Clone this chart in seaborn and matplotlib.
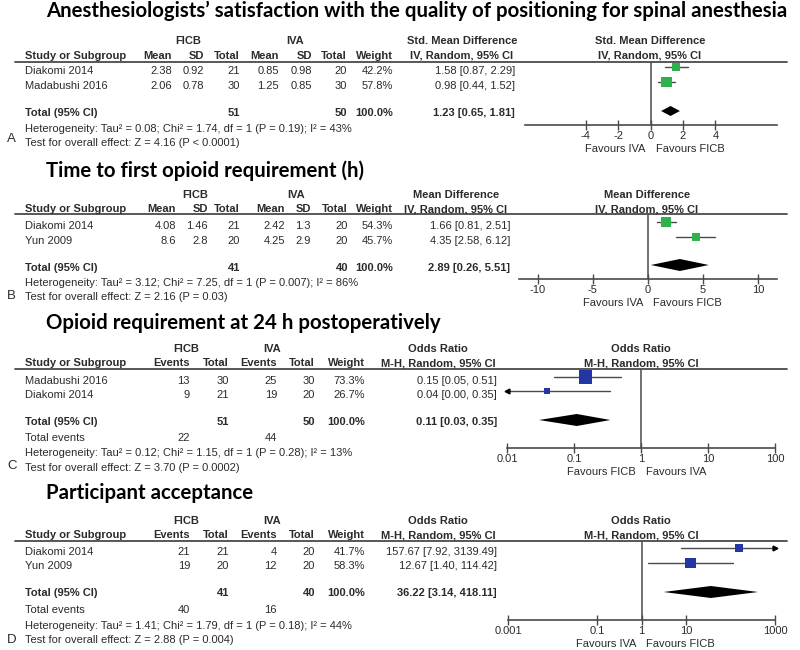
import matplotlib
matplotlib.use("Agg")
import matplotlib.pyplot as plt
import seaborn as sns

# ---- A: anesthesiologists' satisfaction (std. mean difference) ----
studies_a = ["Diakomi 2014", "Madabushi 2016"]
ficb_mean_a = [2.38, 2.06]
ficb_sd_a = [0.92, 0.78]
ficb_n_a = [21, 30]
iva_mean_a = [0.85, 1.25]
iva_sd_a = [0.98, 0.85]
iva_n_a = [20, 30]
weight_a = [42.2, 57.8]
est_a = [1.58, 0.98]
lo_a = [0.87, 0.44]
hi_a = [2.29, 1.52]
total_a = [1.23, 0.65, 1.81]
het_a = "Heterogeneity: Tau² = 0.08; Chi² = 1.74, df = 1 (P = 0.19); I² = 43%"
test_a = "Test for overall effect: Z = 4.16 (P < 0.0001)"
ticks_a = [-4, -2, 0, 2, 4]

# ---- B: time to first opioid requirement (mean difference) ----
studies_b = ["Diakomi 2014", "Yun 2009"]
ficb_mean_b = [4.08, 8.6]
ficb_sd_b = [1.46, 2.8]
ficb_n_b = [21, 20]
iva_mean_b = [2.42, 4.25]
iva_sd_b = [1.3, 2.9]
iva_n_b = [20, 20]
weight_b = [54.3, 45.7]
est_b = [1.66, 4.35]
lo_b = [0.81, 2.58]
hi_b = [2.51, 6.12]
total_b = [2.89, 0.26, 5.51]
het_b = "Heterogeneity: Tau² = 3.12; Chi² = 7.25, df = 1 (P = 0.007); I² = 86%"
test_b = "Test for overall effect: Z = 2.16 (P = 0.03)"
ticks_b = [-10, -5, 0, 5, 10]

# ---- C: opioid requirement at 24 h (odds ratio) ----
studies_c = ["Madabushi 2016", "Diakomi 2014"]
ficb_ev_c = [13, 9]
ficb_n_c = [30, 21]
iva_ev_c = [25, 19]
iva_n_c = [30, 20]
weight_c = [73.3, 26.7]
est_c = [0.15, 0.04]
lo_c = [0.05, 0.00]
hi_c = [0.51, 0.35]
total_c = [0.11, 0.03, 0.35]
het_c = "Heterogeneity: Tau² = 0.12; Chi² = 1.15, df = 1 (P = 0.28); I² = 13%"
test_c = "Test for overall effect: Z = 3.70 (P = 0.0002)"
ticks_c = [0.01, 0.1, 1, 10, 100]
ticklabels_c = ["0.01", "0.1", "1", "10", "100"]

# ---- D: participant acceptance (odds ratio) ----
studies_d = ["Diakomi 2014", "Yun 2009"]
ficb_ev_d = [21, 19]
ficb_n_d = [21, 20]
iva_ev_d = [4, 12]
iva_n_d = [20, 20]
weight_d = [41.7, 58.3]
est_d = [157.67, 12.67]
lo_d = [7.92, 1.40]
hi_d = [3139.49, 114.42]
total_d = [36.22, 3.14, 418.11]
het_d = "Heterogeneity: Tau² = 1.41; Chi² = 1.79, df = 1 (P = 0.18); I² = 44%"
test_d = "Test for overall effect: Z = 2.88 (P = 0.004)"
ticks_d = [0.001, 0.1, 1, 10, 1000]
ticklabels_d = ["0.001", "0.1", "1", "10", "1000"]

sns.set_theme(style="white")
plt.rcParams["font.family"] = ["Liberation Sans", "DejaVu Sans"]

W, H = 800, 650
TXT = "#2b2b2b"
LINE = "#4a4a4a"
GREEN = "#2fb24c"
BLUE = "#2436a3"
FS = 8.0

fig = plt.figure(figsize=(W / 100, H / 100), dpi=100)
bg = fig.add_axes([0, 0, 1, 1])
bg.set_xlim(0, W)
bg.set_ylim(H, 0)
bg.axis("off")


def txt(x, y, s, ha="left", bold=False, size=FS, color=TXT, family=None):
    bg.text(x, y, s, ha=ha, va="center", fontsize=size, color=color,
            fontweight="bold" if bold else "normal",
            family=family or ["Liberation Sans", "DejaVu Sans"])


def fmt_ci(e, l, h):
    return f"{e:.2f} [{l:.2f}, {h:.2f}]"


def header(lay, names, cols, groups, effect, method, eff_cx, forest_cx):
    for label, cx in groups:
        txt(cx, lay["hdr1"], label, ha="center", bold=True)
    txt(25, lay["hdr2"], "Study or Subgroup", bold=True)
    for name, x in zip(names, cols):
        txt(x, lay["hdr2"], name, ha="right", bold=True)
    for cx in (eff_cx, forest_cx):
        txt(cx, lay["hdr1"], effect, ha="center", bold=True)
        txt(cx, lay["hdr2"], method, ha="center", bold=True)
    bg.plot([15, 787], [lay["line"], lay["line"]], color=LINE, lw=1.3)


def footer(lay, ci_col, n_cols, wcol, total, n1, n2, het, test, letter):
    txt(25, lay["total"], "Total (95% CI)", bold=True)
    txt(n_cols[0], lay["total"], str(n1), ha="right", bold=True)
    txt(n_cols[1], lay["total"], str(n2), ha="right", bold=True)
    txt(wcol, lay["total"], "100.0%", ha="right", bold=True)
    txt(ci_col, lay["total"], fmt_ci(*total), ha="right", bold=True)
    txt(25, lay["het"], het)
    txt(25, lay["test"], test)
    txt(7, lay["letter"], letter, size=9.5)


def forest(lay, xlim, log, ticks, ticklabels, est, lo, hi, w, total, color,
           null, fav_left, fav_right):
    x0, x1 = lay["fx"]
    ytop, ybot = lay["line"], lay["faxis"]
    ax = fig.add_axes([x0 / W, 1 - ybot / H, (x1 - x0) / W, (ybot - ytop) / H])
    ax.patch.set_alpha(0)
    if log:
        ax.set_xscale("log")
    ax.set_xlim(xlim)
    ax.set_ylim(ybot, ytop)
    ax.axvline(null, color=LINE, lw=1.1, zorder=1)
    ys = lay["frows"]
    for e, l, h, y in zip(est, lo, hi, ys):
        lc = max(l, xlim[0]) if l > 0 or not log else xlim[0]
        hc = min(h, xlim[1])
        ax.plot([lc, hc], [y, y], color=LINE, lw=1, zorder=2, clip_on=False)
        if l < xlim[0] or (log and l <= 0):
            ax.plot([xlim[0]], [y], marker="<", ms=3.5, color="black", clip_on=False)
        if h > xlim[1]:
            ax.plot([xlim[1]], [y], marker=">", ms=3.5, color="black", clip_on=False)
    sizes = [((1.5 + wi * 0.16) * 0.72) ** 2 for wi in w]
    sns.scatterplot(x=est, y=ys, marker="s", s=sizes, color=color,
                    edgecolor=color, linewidth=0, legend=False, ax=ax, zorder=3)
    e, l, h = total
    yd, dh = lay["fdia"], lay["dia_h"]
    ax.fill([l, e, h, e], [yd, yd - dh, yd, yd + dh], color="black", lw=0, zorder=3)
    ax.set_xticks(ticks)
    ax.set_xticklabels(ticklabels)
    ax.minorticks_off()
    ax.set_yticks([])
    ax.set_xlabel("")
    ax.set_ylabel("")
    for side in ("left", "right", "top"):
        ax.spines[side].set_visible(False)
    ax.spines["bottom"].set_color(LINE)
    ax.spines["bottom"].set_linewidth(1.2)
    ax.tick_params(axis="x", direction="inout", length=7, width=1, color=LINE,
                   labelsize=FS, labelcolor=TXT, pad=1, bottom=True)
    for s, dx, ha in ((fav_left, -5, "right"), (fav_right, 5, "left")):
        ax.annotate(s, xy=(null, 0), xycoords=("data", "axes fraction"),
                    xytext=(dx, -24), textcoords="offset pixels", ha=ha,
                    va="center", fontsize=FS, color=TXT)


def title(y, s):
    txt(46, y, s, bold=True, size=14.7, color="black", family=["Lato", "DejaVu Sans"])


# ------------------------------ panel A ------------------------------
LAY_A = dict(hdr1=41, hdr2=56, line=62, rows=[71, 86], total=113, het=129, test=143,
             letter=139, fx=(525, 777), faxis=125, frows=[67, 82], fdia=111, dia_h=5)
cols_a = [172, 204, 240, 279, 312, 347, 393]
title(11, "Anesthesiologists’ satisfaction with the quality of positioning for spinal anesthesia")
header(LAY_A, ["Mean", "SD", "Total", "Mean", "SD", "Total", "Weight"], cols_a,
       [("FICB", 188), ("IVA", 295)], "Std. Mean Difference", "IV, Random, 95% CI", 462, 650)
for i, name in enumerate(studies_a):
    y = LAY_A["rows"][i]
    txt(25, y, name)
    vals = [f"{ficb_mean_a[i]:g}", f"{ficb_sd_a[i]:g}", str(ficb_n_a[i]),
            f"{iva_mean_a[i]:g}", f"{iva_sd_a[i]:g}", str(iva_n_a[i]), f"{weight_a[i]:.1f}%"]
    for v, x in zip(vals, cols_a):
        txt(x, y, v, ha="right")
    txt(515, y, fmt_ci(est_a[i], lo_a[i], hi_a[i]), ha="right")
footer(LAY_A, 515, (240, 347), 393, total_a, sum(ficb_n_a), sum(iva_n_a), het_a, test_a, "A")
forest(LAY_A, (-7.75, 7.8), False, ticks_a, [str(t) for t in ticks_a], est_a, lo_a, hi_a,
       weight_a, total_a, GREEN, 0, "Favours IVA", "Favours FICB")

# ------------------------------ panel B ------------------------------
LAY_B = dict(hdr1=195, hdr2=209, line=214, rows=[226, 241], total=268, het=283, test=297,
             letter=296, fx=(519, 777), faxis=279, frows=[222, 237], fdia=265, dia_h=6)
cols_b = [176, 208, 240, 285, 311, 348, 393]
title(171, "Time to first opioid requirement (h)")
header(LAY_B, ["Mean", "SD", "Total", "Mean", "SD", "Total", "Weight"], cols_b,
       [("FICB", 195), ("IVA", 296)], "Mean Difference", "IV, Random, 95% CI", 456, 647)
for i, name in enumerate(studies_b):
    y = LAY_B["rows"][i]
    txt(25, y, name)
    vals = [f"{ficb_mean_b[i]:g}", f"{ficb_sd_b[i]:g}", str(ficb_n_b[i]),
            f"{iva_mean_b[i]:g}", f"{iva_sd_b[i]:g}", str(iva_n_b[i]), f"{weight_b[i]:.1f}%"]
    for v, x in zip(vals, cols_b):
        txt(x, y, v, ha="right")
    txt(510, y, fmt_ci(est_b[i], lo_b[i], hi_b[i]), ha="right")
footer(LAY_B, 510, (240, 348), 393, total_b, sum(ficb_n_b), sum(iva_n_b), het_b, test_b, "B")
forest(LAY_B, (-11.7, 11.7), False, ticks_b, [str(t) for t in ticks_b], est_b, lo_b, hi_b,
       weight_b, total_b, GREEN, 0, "Favours IVA", "Favours FICB")

# ---------------------------- panels C, D ----------------------------
cols_cd = [190, 229, 277, 315, 365]


def dich_panel(lay, ttl, studies, ev1, n1, ev2, n2, w, est, lo, hi, total, het, test,
               letter, xlim, ticks, ticklabels, fav_left, fav_right):
    title(lay["title"], ttl)
    header(lay, ["Events", "Total", "Events", "Total", "Weight"], cols_cd,
           [("FICB", 186), ("IVA", 272)], "Odds Ratio", "M-H, Random, 95% CI", 438, 641)
    for i, name in enumerate(studies):
        y = lay["rows"][i]
        txt(25, y, name)
        vals = [str(ev1[i]), str(n1[i]), str(ev2[i]), str(n2[i]), f"{w[i]:.1f}%"]
        for v, x in zip(vals, cols_cd):
            txt(x, y, v, ha="right")
        txt(497, y, fmt_ci(est[i], lo[i], hi[i]), ha="right")
    footer(lay, 497, (229, 315), 365, total, sum(n1), sum(n2), het, test, letter)
    txt(25, lay["events"], "Total events")
    txt(cols_cd[0], lay["events"], str(sum(ev1)), ha="right")
    txt(cols_cd[2], lay["events"], str(sum(ev2)), ha="right")
    forest(lay, xlim, True, ticks, ticklabels, est, lo, hi, w, total, BLUE, 1,
           fav_left, fav_right)


LAY_C = dict(title=323, hdr1=349, hdr2=363, line=369, rows=[381, 395], total=422, events=438,
             het=453, test=468, letter=466, fx=(507, 775), faxis=448, frows=[377, 391],
             fdia=420, dia_h=6)
dich_panel(LAY_C, "Opioid requirement at 24 h postoperatively", studies_c, ficb_ev_c,
           ficb_n_c, iva_ev_c, iva_n_c, weight_c, est_c, lo_c, hi_c, total_c, het_c, test_c,
           "C", (0.01, 100), ticks_c, ticklabels_c, "Favours FICB", "Favours IVA")

LAY_D = dict(title=493, hdr1=521, hdr2=535, line=541, rows=[552, 566], total=593, events=610,
             het=626, test=640, letter=640, fx=(508, 775), faxis=620, frows=[548, 563],
             fdia=592, dia_h=6)
dich_panel(LAY_D, "Participant acceptance", studies_d, ficb_ev_d, ficb_n_d, iva_ev_d,
           iva_n_d, weight_d, est_d, lo_d, hi_d, total_d, het_d, test_d,
           "D", (0.001, 1000), ticks_d, ticklabels_d, "Favours IVA", "Favours FICB")

fig.savefig("out.png", dpi=100)
